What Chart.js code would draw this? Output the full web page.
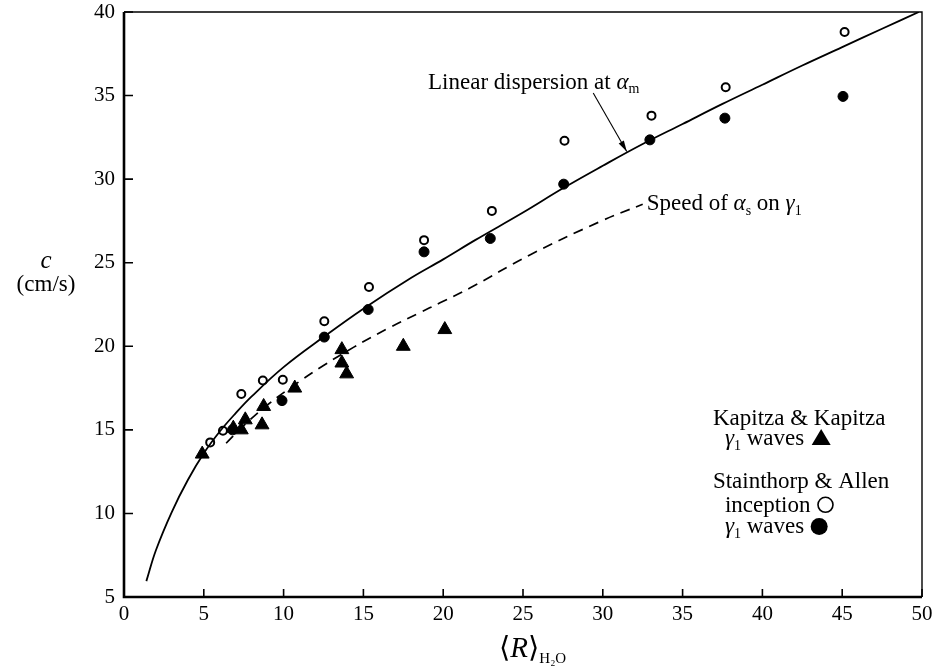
<!DOCTYPE html>
<html>
<head>
<meta charset="utf-8">
<script src="https://cdn.jsdelivr.net/npm/chart.js@4.4.0/dist/chart.umd.min.js"></script>
<style>
  html, body { margin: 0; padding: 0; background: #fff; }
  canvas { display: block; }
</style>
</head>
<body>
<canvas id="speedChart" width="935" height="667"></canvas>
<script>
// Kapitza & Kapitza, gamma-1 waves
const kapitzaR = [4.9, 6.85, 7.35, 7.6, 8.65, 8.75, 10.7, 13.65, 13.65, 13.95, 17.5, 20.1];
const kapitzaC = [13.55, 15.1, 15.0, 15.6, 15.3, 16.4, 17.5, 19.8, 19.0, 18.35, 20.0, 21.0];

// Stainthorp & Allen, inception
const inceptionR = [5.4, 6.2, 7.35, 8.7, 9.95, 12.55, 15.35, 18.8, 23.05, 27.6, 33.05, 37.7, 45.15];
const inceptionC = [14.25, 14.95, 17.15, 17.95, 18.0, 21.5, 23.55, 26.35, 28.1, 32.3, 33.8, 35.5, 38.8];

// Stainthorp & Allen, gamma-1 waves
const wavesR = [6.8, 9.9, 12.55, 15.3, 18.8, 22.95, 27.55, 32.95, 37.65, 45.05];
const wavesC = [15.0, 16.75, 20.55, 22.2, 25.65, 26.45, 29.7, 32.35, 33.65, 34.95];

// linear dispersion at alpha_m (solid curve)
const linearR = [1.4, 2, 3, 4, 5, 6, 7, 8, 10, 12.5, 15, 18, 20, 22, 25, 27.5, 30, 32.5, 35, 37.5, 40, 42.5, 45, 47.5, 49.8];
const linearC = [5.95, 7.8, 10.1, 12.0, 13.6, 14.9, 16.0, 17.0, 18.75, 20.55, 22.25, 24.1, 25.2, 26.35, 28.0, 29.45, 30.8, 32.1, 33.3, 34.5, 35.65, 36.8, 37.9, 39.0, 40.0];

// speed of alpha_s on gamma-1 (dashed curve)
const speedR = [6.4, 7.5, 9, 11, 12.5, 14.4, 16.5, 18.5, 19.8, 21.7, 25.4, 29.8, 32.5];
const speedC = [14.2, 15.25, 16.5, 17.9, 18.85, 19.95, 21.05, 22.0, 22.6, 23.5, 25.45, 27.45, 28.5];

const xTicks = [0, 5, 10, 15, 20, 25, 30, 35, 40, 45, 50];
const yTicks = [5, 10, 15, 20, 25, 30, 35, 40];

const SERIF = '"Liberation Serif", "DejaVu Serif", serif';

function pairs(xs, ys) {
  return xs.map((x, i) => ({ x: x, y: ys[i] }));
}

// text runs: [text, kind] with kind 'n' normal, 'i' italic, 's' subscript
function drawRuns(ctx, runs, x, y, size, subRatio) {
  const sr = subRatio || 0.6;
  let cx = x;
  ctx.textAlign = 'left';
  ctx.textBaseline = 'alphabetic';
  for (const [t, kind] of runs) {
    const sub = kind === 's';
    const fs = sub ? Math.round(size * sr) : size;
    ctx.font = (kind === 'i' ? 'italic ' : '') + fs + 'px ' + SERIF;
    ctx.fillText(t, cx, sub ? y + size * 0.2 : y);
    cx += ctx.measureText(t).width;
  }
  return cx;
}

function runsWidth(ctx, runs, size, subRatio) {
  const sr = subRatio || 0.6;
  let w = 0;
  for (const [t, kind] of runs) {
    const fs = kind === 's' ? Math.round(size * sr) : size;
    ctx.font = (kind === 'i' ? 'italic ' : '') + fs + 'px ' + SERIF;
    w += ctx.measureText(t).width;
  }
  return w;
}

const frameAndNotes = {
  id: 'frameAndNotes',
  beforeDatasetsDraw(chart) {
    const { ctx, chartArea: a, scales } = chart;
    ctx.save();
    ctx.strokeStyle = '#000';
    // inward tick marks
    ctx.lineWidth = 1.6;
    ctx.beginPath();
    for (const v of xTicks) {
      const px = scales.x.getPixelForValue(v);
      ctx.moveTo(px, a.bottom);
      ctx.lineTo(px, a.bottom - 8);
    }
    for (const v of yTicks) {
      const py = scales.y.getPixelForValue(v);
      ctx.moveTo(a.left, py);
      ctx.lineTo(a.left + 9, py);
    }
    ctx.stroke();
    // frame: heavier left and bottom
    ctx.lineWidth = 1.4;
    ctx.beginPath();
    ctx.moveTo(a.left, a.top);
    ctx.lineTo(a.right, a.top);
    ctx.lineTo(a.right, a.bottom);
    ctx.stroke();
    ctx.lineWidth = 2.6;
    ctx.beginPath();
    ctx.moveTo(a.left, a.top);
    ctx.lineTo(a.left, a.bottom);
    ctx.lineTo(a.right, a.bottom);
    ctx.stroke();
    ctx.restore();
  },
  afterDraw(chart) {
    const { ctx, scales } = chart;
    const X = v => scales.x.getPixelForValue(v);
    const Y = v => scales.y.getPixelForValue(v);
    ctx.save();
    ctx.fillStyle = '#000';
    ctx.strokeStyle = '#000';
    const fs = 23;

    // curve labels
    drawRuns(ctx, [['Linear dispersion at ', 'n'], ['\u03b1', 'i'], ['m', 's']], X(19.05), Y(35.4), fs);
    drawRuns(ctx, [['Speed of ', 'n'], ['\u03b1', 'i'], ['s', 's'], [' on ', 'n'], ['\u03b3', 'i'], ['1', 's']], X(32.75), Y(28.15), fs);

    // arrow onto the solid curve
    const x0 = X(29.4), y0 = Y(35.15), x1 = X(31.5), y1 = Y(31.65);
    ctx.lineWidth = 1.1;
    ctx.beginPath();
    ctx.moveTo(x0, y0);
    ctx.lineTo(x1, y1);
    ctx.stroke();
    const ang = Math.atan2(y1 - y0, x1 - x0);
    ctx.beginPath();
    ctx.moveTo(x1, y1);
    ctx.lineTo(x1 - 11 * Math.cos(ang) + 3 * Math.sin(ang), y1 - 11 * Math.sin(ang) - 3 * Math.cos(ang));
    ctx.lineTo(x1 - 11 * Math.cos(ang) - 3 * Math.sin(ang), y1 - 11 * Math.sin(ang) + 3 * Math.cos(ang));
    ctx.closePath();
    ctx.fill();

    // key
    drawRuns(ctx, [['Kapitza & Kapitza', 'n']], X(36.9), Y(15.3), fs);
    let e = drawRuns(ctx, [['\u03b3', 'i'], ['1', 's'], [' waves', 'n']], X(37.65), Y(14.1), fs);
    ctx.beginPath();
    const tx = e + 17, ty = Y(14.1) - 7;
    ctx.moveTo(tx, ty - 9);
    ctx.lineTo(tx + 9.5, ty + 7);
    ctx.lineTo(tx - 9.5, ty + 7);
    ctx.closePath();
    ctx.fill();

    drawRuns(ctx, [['Stainthorp & Allen', 'n']], X(36.9), Y(11.5), fs);
    e = drawRuns(ctx, [['inception', 'n']], X(37.65), Y(10.1), fs);
    ctx.lineWidth = 1.6;
    ctx.beginPath();
    ctx.arc(e + 15, Y(10.1) - 7, 7.5, 0, Math.PI * 2);
    ctx.stroke();
    e = drawRuns(ctx, [['\u03b3', 'i'], ['1', 's'], [' waves', 'n']], X(37.65), Y(8.8), fs);
    ctx.beginPath();
    ctx.arc(e + 15, Y(8.8) - 7, 8.5, 0, Math.PI * 2);
    ctx.fill();

    // axis titles
    ctx.font = 'italic 25px ' + SERIF;
    ctx.textAlign = 'center';
    ctx.fillText('c', 46, 268);
    ctx.font = '23px ' + SERIF;
    ctx.fillText('(cm/s)', 46, 291);

    const xt = [['\u27e8', 'n'], ['R', 'i'], ['\u27e9', 'n'], ['H\u2082O', 's']];
    const w = runsWidth(ctx, xt, 29, 0.52);
    drawRuns(ctx, xt, X(25.6) - w / 2, 657, 29, 0.52);
    ctx.restore();
  }
};

new Chart(document.getElementById('speedChart'), {
  type: 'scatter',
  data: {
    datasets: [
      {
        label: 'Linear dispersion at alpha_m',
        type: 'line',
        data: pairs(linearR, linearC),
        borderColor: '#000',
        borderWidth: 1.8,
        pointRadius: 0,
        tension: 0.4,
        fill: false
      },
      {
        label: 'Speed of alpha_s on gamma_1',
        type: 'line',
        data: pairs(speedR, speedC),
        borderColor: '#000',
        borderWidth: 1.7,
        borderDash: [10, 7],
        pointRadius: 0,
        tension: 0.4,
        fill: false
      },
      {
        label: 'Kapitza & Kapitza, gamma_1 waves',
        data: pairs(kapitzaR, kapitzaC),
        pointStyle: 'triangle',
        pointRadius: 8,
        backgroundColor: '#000',
        borderColor: '#000',
        borderWidth: 1
      },
      {
        label: 'Stainthorp & Allen, inception',
        data: pairs(inceptionR, inceptionC),
        pointStyle: 'circle',
        pointRadius: 4,
        backgroundColor: '#fff',
        borderColor: '#000',
        borderWidth: 2
      },
      {
        label: 'Stainthorp & Allen, gamma_1 waves',
        data: pairs(wavesR, wavesC),
        pointStyle: 'circle',
        pointRadius: 5,
        backgroundColor: '#000',
        borderColor: '#000',
        borderWidth: 1
      }
    ]
  },
  options: {
    responsive: false,
    animation: false,
    devicePixelRatio: 1,
    layout: { padding: { top: 12, right: 13, left: 0, bottom: 0 } },
    plugins: {
      legend: { display: false },
      tooltip: { enabled: false }
    },
    scales: {
      x: {
        type: 'linear',
        min: 0,
        max: 50,
        afterBuildTicks: s => { s.ticks = xTicks.map(v => ({ value: v })); },
        ticks: { color: '#000', font: { family: SERIF, size: 21 }, padding: 5, maxRotation: 0, autoSkip: false },
        grid: { display: false, drawTicks: false },
        border: { display: false },
        afterFit: s => { s.height = 70; s.paddingLeft = 0; s.paddingRight = 0; }
      },
      y: {
        type: 'linear',
        min: 5,
        max: 40,
        afterBuildTicks: s => { s.ticks = yTicks.map(v => ({ value: v })); },
        ticks: { color: '#000', font: { family: SERIF, size: 21 }, padding: 9, autoSkip: false },
        grid: { display: false, drawTicks: false },
        border: { display: false },
        afterFit: s => { s.width = 124; s.paddingTop = 0; s.paddingBottom = 0; }
      }
    }
  },
  plugins: [frameAndNotes]
});
</script>
</body>
</html>
